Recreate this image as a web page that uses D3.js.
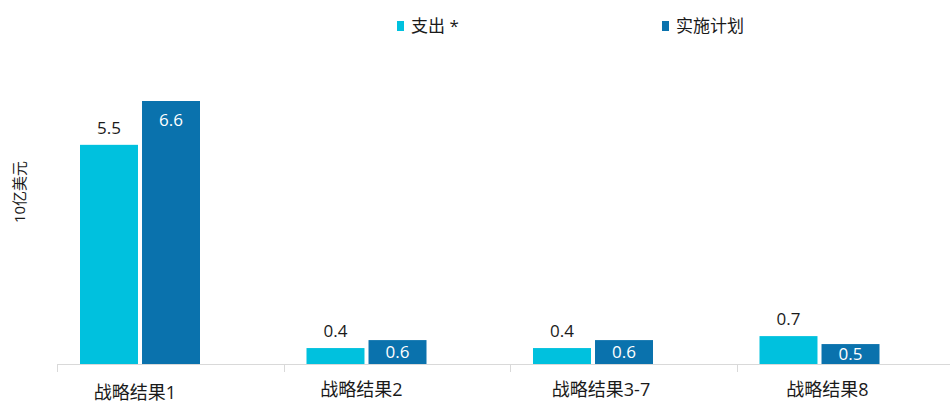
<!DOCTYPE html>
<html>
<head>
<meta charset="utf-8">
<script src="https://cdn.jsdelivr.net/npm/d3@7"></script>
<style>
  body { margin: 0; background: #fff; }
  svg { display: block; font-family: "Open Sans", "Noto Sans CJK SC", sans-serif; }
</style>
</head>
<body>
<div id="chart"></div>
<script>
// Strategic outcome spending vs implementation plan (billions USD)
const categories = ['战略结果1', '战略结果2', '战略结果3-7', '战略结果8'];
const seriesNames = ['支出 *', '实施计划'];
const spending = [5.5, 0.4, 0.4, 0.7];
const plan = [6.6, 0.6, 0.6, 0.5];
const yTitle = '10亿美元';

const colors = ['#00c1de', '#0a72ad'];
const width = 950, height = 403;
const baseY = 364;
// category label nudges, as placed in the original
const labelDx = [78, 78, 91, 91];
const labelY = [399, 396, 396, 396];

const svg = d3.select('#chart').append('svg')
  .attr('width', width)
  .attr('height', height);

const x0 = d3.scaleBand().domain(categories).range([57, 963]).padding(0);
const x1 = d3.scaleBand().domain(seriesNames).range([23, 143]).paddingInner(0.065);
const y = d3.scaleLinear().domain([0, 6.6]).range([baseY, 101]);

const rows = categories.map((c, i) => ({ cat: c, vals: [spending[i], plan[i]] }));

// axis line with tick marks at category boundaries
const axis = svg.append('g');
axis.append('line')
  .attr('x1', x0.range()[0]).attr('x2', x0.range()[1])
  .attr('y1', baseY + 0.5).attr('y2', baseY + 0.5)
  .attr('stroke', '#d9d9d9').attr('stroke-width', 1);
axis.selectAll('line.tick')
  .data(categories)
  .join('line')
  .attr('class', 'tick')
  .attr('x1', d => Math.round(x0(d)) + 0.5).attr('x2', d => Math.round(x0(d)) + 0.5)
  .attr('y1', baseY).attr('y2', baseY + 8)
  .attr('stroke', '#d9d9d9');

axis.selectAll('text.cat')
  .data(categories)
  .join('text')
  .attr('class', 'cat')
  .attr('x', (d, i) => x0(d) + labelDx[i])
  .attr('y', (d, i) => labelY[i])
  .attr('text-anchor', 'middle')
  .attr('font-size', 18)
  .attr('fill', '#1a1a1a')
  .text(d => d);

// bars
const groups = svg.selectAll('g.cat')
  .data(rows)
  .join('g')
  .attr('class', 'cat')
  .attr('transform', d => `translate(${x0(d.cat)},0)`);

groups.selectAll('rect')
  .data(d => d.vals.map((v, k) => ({ s: seriesNames[k], k, v })))
  .join('rect')
  .attr('x', d => x1(d.s))
  .attr('y', d => y(d.v))
  .attr('width', x1.bandwidth())
  .attr('height', d => baseY - y(d.v))
  .attr('fill', d => colors[d.k]);

// value labels: spending above, plan inside
groups.selectAll('text.val')
  .data(d => d.vals.map((v, k) => ({ s: seriesNames[k], k, v })))
  .join('text')
  .attr('class', 'val')
  .attr('x', d => x1(d.s) + x1.bandwidth() / 2)
  .attr('y', d => {
    if (d.k === 0) return y(d.v) - 11;
    const h = baseY - y(d.v);
    return h > 40 ? y(d.v) + 25 : y(d.v) + h / 2 + 6;
  })
  .attr('text-anchor', 'middle')
  .attr('font-size', 17)
  .attr('fill', d => d.k === 0 ? '#1a1a1a' : '#fff')
  .text(d => d.v.toFixed(1));

// y axis title
svg.append('text')
  .attr('transform', 'translate(25,192) rotate(-90)')
  .attr('text-anchor', 'middle')
  .attr('font-size', 15)
  .attr('fill', '#1a1a1a')
  .text(yTitle);

// legend
const legendX = [397, 662];
const legend = svg.selectAll('g.legend')
  .data(seriesNames)
  .join('g')
  .attr('class', 'legend')
  .attr('transform', (d, i) => `translate(${legendX[i]},20)`);
legend.append('rect')
  .attr('width', 7).attr('height', 10).attr('y', 1)
  .attr('fill', (d, i) => colors[i]);
legend.append('text')
  .attr('x', 14).attr('y', 12)
  .attr('font-size', 17)
  .attr('fill', '#1a1a1a')
  .text(d => d);
</script>
</body>
</html>
